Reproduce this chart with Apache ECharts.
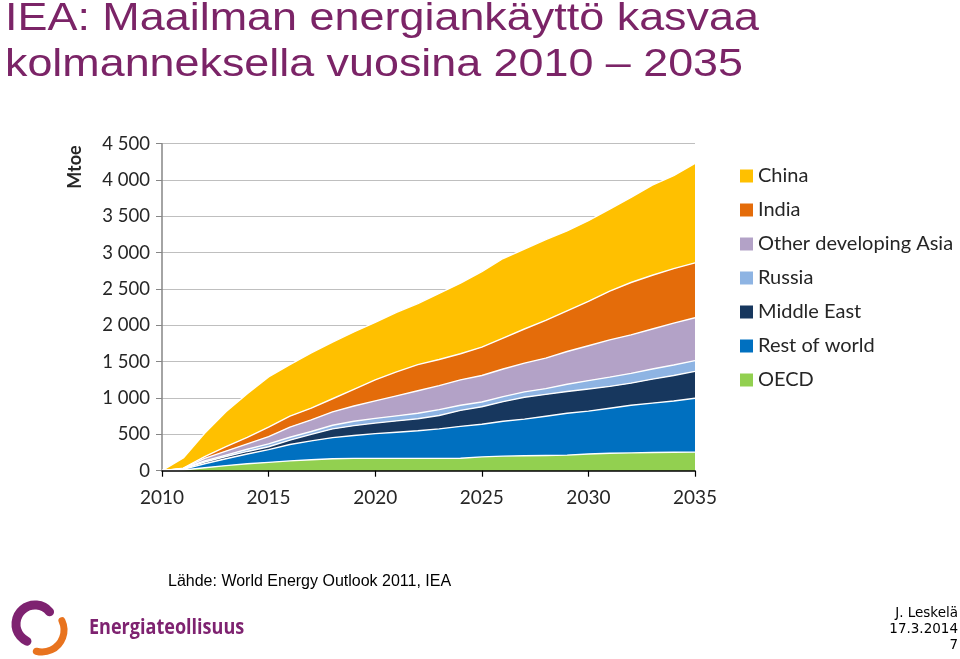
<!DOCTYPE html>
<html>
<head>
<meta charset="utf-8">
<script src="https://cdn.jsdelivr.net/npm/echarts@6/dist/echarts.min.js"></script>
<style>
html,body{margin:0;padding:0;background:#fff;}
#c{width:960px;height:659px;}
</style>
</head>
<body>
<div id="c"></div>
<script>
// ---- data (Mtoe, increase vs 2010) ----
var years = ['2010','2011','2012','2013','2014','2015','2016','2017','2018','2019','2020','2021','2022','2023','2024','2025','2026','2027','2028','2029','2030','2031','2032','2033','2034','2035'];
var oecd        = [0,10,40,70,95,115,135,150,165,170,170,170,170,170,172,190,200,205,210,215,230,240,245,250,253,255];
var restOfWorld = [0,8,55,95,135,175,225,260,290,315,340,360,380,405,438,450,480,505,540,575,590,620,655,680,707,742];
var middleEast  = [0,6,25,30,35,40,60,90,120,135,145,155,165,185,220,240,270,300,300,300,305,300,305,330,350,370];
var russia      = [0,3,15,20,30,40,40,40,50,60,65,70,75,80,70,65,70,75,80,100,115,128,135,140,145,148];
var otherAsia   = [0,5,35,55,75,100,140,160,185,210,240,275,310,330,350,365,380,395,420,450,480,512,530,550,575,590];
var india       = [0,4,25,60,90,130,150,160,180,230,290,330,360,360,360,390,425,470,520,560,610,670,720,740,750,755];
var china       = [0,139,320,480,600,690,710,760,780,790,790,820,840,910,970,1040,1095,1100,1110,1100,1110,1130,1170,1240,1280,1370];

var names = ['OECD','Rest of world','Middle East','Russia','Other developing Asia','India','China'];
var colors = ['#92D050','#0070C0','#17375E','#8EB4E3','#B3A2C7','#E46C0A','#FFC000'];
var values = [oecd, restOfWorld, middleEast, russia, otherAsia, india, china];

var title1 = 'IEA: Maailman energiankäyttö kasvaa';
var title2 = 'kolmanneksella vuosina 2010 – 2035';
var titleFont = '38px "Liberation Sans"';

function measure(txt, font){
  var ctx = document.createElement('canvas').getContext('2d');
  ctx.font = font; return ctx.measureText(txt).width;
}
var sx1 = 754 / measure(title1, titleFont);
var sx2 = 738 / measure(title2, titleFont);

var series = names.map(function(n,i){
  return {
    name:n, type:'line', stack:'total', data: values[i],
    symbol:'none', showSymbol:false, smooth:false,
    lineStyle:{color:'#ffffff', width:1.4},
    itemStyle:{color:colors[i]},
    areaStyle:{color:colors[i], opacity:1},
    emphasis:{disabled:true}, z: 2
  };
});

var purple = '#7B2467';
var D = Math.PI/180;
var chart = echarts.init(document.getElementById('c'), null, {renderer:'canvas'});
chart.setOption({
  animation:false,
  backgroundColor:'#ffffff',
  grid:{left:162, right:265, top:143.7, bottom:188.3},
  xAxis:{
    type:'category', data: years, boundaryGap:false,
    axisLine:{lineStyle:{color:'#000', width:1.5}},
    axisTick:{interval:4, length:6, lineStyle:{color:'#000', width:1.2}},
    axisLabel:{interval:4, margin:18, fontFamily:'Lato', fontSize:19, color:'#262626'},
    splitLine:{show:false}, z:5
  },
  yAxis:{
    type:'value', min:0, max:4500, interval:500,
    axisLine:{show:true, lineStyle:{color:'#868686', width:1.5}},
    axisTick:{show:true, length:6, lineStyle:{color:'#868686'}},
    axisLabel:{margin:12, fontFamily:'Lato', fontSize:18.5, color:'#262626',
      formatter:function(v){ var s=String(v); return s.length>3 ? s.slice(0,s.length-3)+' '+s.slice(-3) : s; }},
    splitLine:{lineStyle:{color:'#BFBFBF', width:1.2}}
  },
  legend:{
    orient:'vertical', left:740, top:166, padding:0, itemWidth:13, itemHeight:13, itemGap:14,
    icon:'rect', selectedMode:false,
    textStyle:{fontFamily:'Lato', fontSize:20, color:'#262626', lineHeight:20},
    data: names.slice().reverse().map(function(n){
      return {name:n, itemStyle:{color:colors[names.indexOf(n)]}};
    })
  },
  series: series,
  graphic:[
    {type:'text', x:5, y:20, scaleX:sx1, style:{text:title1, font:titleFont, fill:purple, verticalAlign:'middle'}},
    {type:'text', x:5, y:66, scaleX:sx2, style:{text:title2, font:titleFont, fill:purple, verticalAlign:'middle'}},
    {type:'text', x:75, y:167, rotation:Math.PI/2, style:{text:'Mtoe', font:'bold 18px Lato', fill:'#262626', align:'center', verticalAlign:'middle'}},
    {type:'text', x:168, y:582, style:{text:'Lähde: World Energy Outlook 2011, IEA', font:'16px "Liberation Sans"', fill:'#000', verticalAlign:'middle'}},
    {type:'text', x:958, y:613, style:{text:'J. Leskelä', font:'13.5px "DejaVu Sans"', fill:'#000', align:'right', verticalAlign:'middle'}},
    {type:'text', x:958, y:629, style:{text:'17.3.2014', font:'13.5px "DejaVu Sans"', fill:'#000', align:'right', verticalAlign:'middle'}},
    {type:'text', x:958, y:645, style:{text:'7', font:'13.5px "DejaVu Sans"', fill:'#000', align:'right', verticalAlign:'middle'}},
    // logo
    {type:'arc', shape:{cx:35, cy:624, r:19, startAngle:-40*D, endAngle:115*D, clockwise:false}, style:{stroke:'#7E2270', lineWidth:9, fill:null, lineCap:'round'}},
    {type:'arc', shape:{cx:42, cy:630, r:22, startAngle:-25*D, endAngle:105*D, clockwise:true}, style:{stroke:'#E8731E', lineWidth:7, fill:null, lineCap:'round'}},
    {type:'text', x:89, y:628, scaleX:0.82, style:{text:'Energiateollisuus', font:'bold 22px "Open Sans"', fill:'#7E2270', verticalAlign:'middle'}}
  ]
});
</script>
</body>
</html>
